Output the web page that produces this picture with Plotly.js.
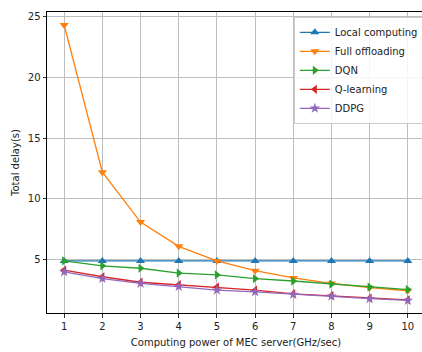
<!DOCTYPE html>
<html>
<head>
<meta charset="utf-8">
<script src="https://cdn.plot.ly/plotly-3.0.1.min.js"></script>
<style>
html, body { margin: 0; padding: 0; overflow: hidden; background: #fff; }
#chart { width: 426px; height: 352px; }
</style>
</head>
<body>
<div id="chart"></div>
<script>
const computingPower = [1, 2, 3, 4, 5, 6, 7, 8, 9, 10];
const localComputing = [4.9, 4.9, 4.9, 4.9, 4.9, 4.9, 4.9, 4.9, 4.9, 4.9];
const fullOffloading = [24.3, 12.2, 8.1, 6.1, 4.9, 4.1, 3.5, 3.05, 2.7, 2.45];
const dqn = [4.9, 4.5, 4.3, 3.9, 3.75, 3.45, 3.25, 3.0, 2.75, 2.55];
const qLearning = [4.15, 3.6, 3.15, 2.95, 2.75, 2.5, 2.2, 2.05, 1.85, 1.7];
const ddpg = [4.0, 3.45, 3.05, 2.8, 2.5, 2.35, 2.15, 2.0, 1.8, 1.65];
const yTicks = [5, 10, 15, 20, 25];

const seriesNames = ['Local computing', 'Full offloading', 'DQN', 'Q-learning', 'DDPG'];
const seriesData = [localComputing, fullOffloading, dqn, qLearning, ddpg];
const colors = ['#1f77b4', '#ff7f0e', '#2ca02c', '#d62728', '#9467bd'];
const symbols = ['triangle-up', 'triangle-down', 'triangle-right', 'triangle-left', 'star'];

const traces = seriesData.map((ys, i) => ({
  x: computingPower,
  y: ys,
  name: seriesNames[i],
  type: 'scatter',
  mode: 'lines+markers',
  line: { color: colors[i], width: 1.3 },
  marker: { color: colors[i], symbol: symbols[i], size: 8 }
}));

const font = { family: 'DejaVu Sans, sans-serif', size: 10, color: '#222' };

const layout = {
  width: 426,
  height: 352,
  margin: { l: 47, r: 1, t: 12, b: 39 },
  paper_bgcolor: '#fff',
  plot_bgcolor: '#fff',
  font: font,
  showlegend: true,
  legend: {
    x: 0.653, y: 0.984, xanchor: 'left', yanchor: 'top',
    bgcolor: 'rgba(255,255,255,0.85)',
    bordercolor: '#cccccc', borderwidth: 1,
    font: { family: 'DejaVu Sans, sans-serif', size: 10, color: '#222' },
    tracegroupgap: 0
  },
  xaxis: {
    range: [0.55, 10.45],
    tickmode: 'array',
    tickvals: computingPower,
    ticktext: computingPower.map(String),
    ticks: 'outside', ticklen: 3.5, tickwidth: 0.8, tickcolor: '#000',
    showline: true, linecolor: '#000', linewidth: 1, mirror: true,
    showgrid: true, gridcolor: '#bdbdbd', gridwidth: 1,
    zeroline: false,
    tickfont: font,
    title: { text: 'Computing power of MEC server(GHz/sec)', font: font, standoff: 8 }
  },
  yaxis: {
    range: [0.62, 25.37],
    tickmode: 'array',
    tickvals: yTicks,
    ticktext: yTicks.map(String),
    ticks: 'outside', ticklen: 3.5, tickwidth: 0.8, tickcolor: '#000',
    showline: true, linecolor: '#000', linewidth: 1, mirror: true,
    showgrid: true, gridcolor: '#bdbdbd', gridwidth: 1,
    zeroline: false,
    tickfont: font,
    title: { text: 'Total delay(s)', font: font, standoff: 6 }
  }
};

Plotly.newPlot('chart', traces, layout, { displayModeBar: false, staticPlot: true });
</script>
</body>
</html>
